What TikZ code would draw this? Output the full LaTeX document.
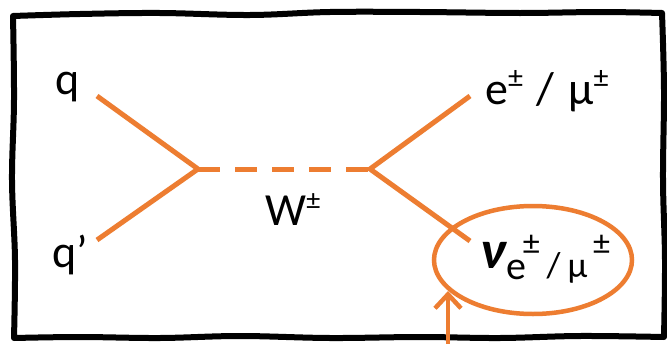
\documentclass[tikz,border=0pt]{standalone}
\usepackage{fontspec}
\setmainfont{Carlito}
\usetikzlibrary{shapes.geometric,arrows.meta}
\definecolor{feyn}{HTML}{ED7D31}
\newcommand{\pmsup}[2][0.35em]{\raisebox{#1}{\fontsize{#2}{#2}\selectfont ±}}
\begin{document}
\begin{tikzpicture}[x=1pt,y=-1pt,
  lbl/.style={font=\fontsize{46}{50}\selectfont, inner sep=0pt},
  prop/.style={draw=feyn, line width=5pt},
  boson/.style={prop, dash pattern=on 22pt off 15pt},
  sketch/.style={draw=black, line width=6pt, line join=round, line cap=round}]
  \useasboundingbox (0,0) rectangle (667,343);
  \path[fill=white] (0,0) rectangle (667,343);

  % hand-drawn frame
  \draw[sketch] plot[smooth, tension=0.6] coordinates {
    (13,16) (80,14) (160,13) (250,15) (330,12) (420,12) (520,13) (600,12) (662,13)}
    -- plot[smooth, tension=0.6] coordinates {(662,13) (664,90) (663,180) (665,260) (664,337)}
    -- plot[smooth, tension=0.6] coordinates {(664,337) (580,336) (500,338) (420,337) (330,338) (240,336) (160,338) (80,337) (14,338)}
    -- plot[smooth, tension=0.6] coordinates {(14,338) (15,260) (12,180) (14,100) (13,16)};

  % vertices and line ends
  \coordinate (v1) at (198,169);
  \coordinate (v2) at (370,169);
  \coordinate (qa) at (97,96);
  \coordinate (qb) at (97,240);
  \coordinate (la) at (470,96);
  \coordinate (lb) at (470,241);

  \draw[prop] (qa) -- (v1) -- (qb);
  \draw[prop] (la) -- (v2) -- (lb);
  \draw[boson] (v1) -- (v2);

  % labels
  \node[lbl] (q)  at (68,87)  {q};
  \node[lbl] (qp) at (70,255) {q’};
  \node[lbl] (w)  at (293,210) {W\pmsup{28}};
  \node[lbl, anchor=base west] (el) at (485,104) {e\pmsup{30}\hspace{0.3em}/\hspace{0.3em}μ\pmsup{30}};

  % neutrino circled
  \node[draw=feyn, line width=4.5pt, ellipse, minimum width=198pt, minimum height=108pt] (nu) at (533,260) {};
  \node[lbl, anchor=base west] (nut) at (480,268) {{\fontsize{54}{56}\selectfont\itshape\bfseries ν}\hspace{0.02em}\raisebox{-0.24em}{\fontsize{40}{42}\selectfont e}\hspace{-0.08em}\pmsup[0.3em]{34}\hspace{0.15em}\raisebox{-0.2em}{\fontsize{36}{38}\selectfont /\hspace{0.2em}μ}\hspace{0.12em}\pmsup[0.3em]{34}};

  \coordinate (foot) at (448,350);
  \coordinate (tip) at (448,291);
  \draw[prop, line width=4.5pt, -{Straight Barb[length=14pt,width=26pt]}] (foot) -- (tip);
\end{tikzpicture}
\end{document}
